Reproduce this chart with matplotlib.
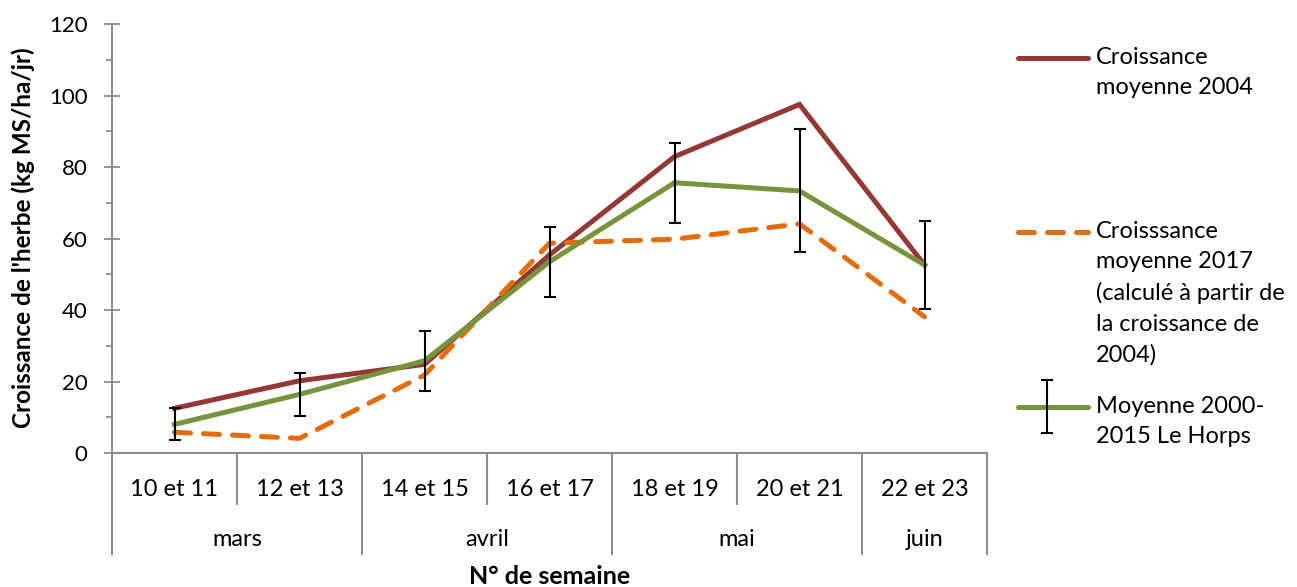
import numpy as np
import matplotlib
matplotlib.use('Agg')
import matplotlib.pyplot as plt
from matplotlib.lines import Line2D
import matplotlib.transforms as mtransforms

plt.rcParams['font.family'] = ['Lato', 'DejaVu Sans']

# ── Données ──────────────────────────────────────────────────────
weeks = ["10 et 11", "12 et 13", "14 et 15", "16 et 17", "18 et 19", "20 et 21", "22 et 23"]
months = ["mars", "avril", "mai", "juin"]
month_span = [2, 2, 2, 1]          # nombre de semaines par mois

croissance_2004 = [12.5, 20.2, 24.8, 55.4, 82.9, 97.5, 52.6]
croissance_2017 = [5.8, 4.1, 21.8, 58.7, 59.8, 64.1, 38.1]
moyenne_horps = [8.0, 16.4, 25.8, 53.5, 75.6, 73.3, 52.6]
erreur_horps = [4.5, 6.1, 8.4, 9.8, 11.2, 17.2, 12.4]

RED = "#953735"
ORANGE = "#E46C0A"
GREEN = "#77933C"
GRAY = "#8C8C8C"

W, H = 1297, 587
fig = plt.figure(figsize=(W / 100, H / 100), dpi=100, facecolor='white')
ax = fig.add_axes([112 / W, 1 - 453 / H, (987 - 112) / W, (453 - 24) / H])

x = np.arange(len(weeks))
ax.plot(x, croissance_2004, color=RED, lw=3.6, solid_joinstyle='miter', zorder=3)
ax.plot(x, croissance_2017, color=ORANGE, lw=3.6, dashes=(3.2, 2.6),
        dash_capstyle='round', zorder=3)
ax.plot(x, moyenne_horps, color=GREEN, lw=3.6, zorder=4)
ax.errorbar(x, moyenne_horps, yerr=erreur_horps, fmt='none', ecolor='black',
            elinewidth=1.5, capsize=4, capthick=1.5, zorder=5)

# ── Axes ─────────────────────────────────────────────────────────
ax.set_xlim(-0.5, len(weeks) - 0.5)
ax.set_ylim(0, 120)
ax.set_yticks(range(0, 121, 20))
ax.set_yticks(range(10, 120, 20), minor=True)
ax.tick_params(axis='y', which='major', direction='inout', length=11, width=1.3,
               color=GRAY, labelsize=16, pad=12)
ax.tick_params(axis='y', which='minor', direction='out', length=4, width=1.3, color=GRAY)
ax.set_xticks([])
for s in ['top', 'right']:
    ax.spines[s].set_visible(False)
for s in ['left', 'bottom']:
    ax.spines[s].set_color(GRAY)
    ax.spines[s].set_linewidth(1.5)

# Axe des catégories à deux niveaux
trans = mtransforms.blended_transform_factory(ax.transData, ax.transAxes)
ax_h = 453 - 24
y_week_line = -(505 - 453) / ax_h
y_month_line = -(555 - 453) / ax_h
for i, w in enumerate(weeks):
    ax.text(i, -(489 - 453) / ax_h, w, transform=trans, ha='center', va='center',
            fontsize=17)

bounds = np.concatenate([[0], np.cumsum(month_span)]) - 0.5
for b in np.arange(-0.5, len(weeks)):
    bottom = y_month_line if np.isclose(bounds, b).any() else y_week_line
    ax.plot([b, b], [0, bottom], transform=trans, color=GRAY, lw=1.5,
            clip_on=False, solid_capstyle='butt')
for m, lo, hi in zip(months, bounds[:-1], bounds[1:]):
    ax.text((lo + hi) / 2, -(540 - 453) / ax_h, m, transform=trans,
            ha='center', va='center', fontsize=17)

ax.text(0.5, -(576 - 453) / ax_h, "N° de semaine", transform=ax.transAxes,
        ha='center', va='center', fontsize=18, fontweight='bold')
fig.text(23 / W, 1 - 238 / H, "Croissance de l'herbe (kg MS/ha/jr)", rotation=90,
         ha='center', va='center', fontsize=17.5, fontweight='bold')

# ── Légende ──────────────────────────────────────────────────────
def fy(py):
    return 1 - py / H

fig.add_artist(Line2D([1018 / W, 1088 / W], [fy(58), fy(58)], color=RED, lw=3.6,
                      solid_capstyle='round'))
fig.add_artist(Line2D([1018 / W, 1088 / W], [fy(232), fy(232)], color=ORANGE, lw=3.6,
                      dashes=(3.2, 2.6), dash_capstyle='round'))
fig.add_artist(Line2D([1018 / W, 1088 / W], [fy(407), fy(407)], color=GREEN, lw=3.6,
                      solid_capstyle='round'))
fig.add_artist(Line2D([1047 / W, 1047 / W], [fy(380), fy(433)], color='black', lw=1.5))
for py in (380, 433):
    fig.add_artist(Line2D([1042 / W, 1052 / W], [fy(py), fy(py)], color='black', lw=1.5))

legend_texts = [
    (58, "Croissance\nmoyenne 2004"),
    (232, "Croisssance\nmoyenne 2017\n(calculé à partir de\nla croissance de\n2004)"),
    (407, "Moyenne 2000-\n2015 Le Horps"),
]
for py, txt in legend_texts:
    fig.text(1096 / W, fy(py) + 11 / H, txt, ha='left', va='top', fontsize=17,
             linespacing=1.55)

fig.savefig("out.png", dpi=100, facecolor='white')
